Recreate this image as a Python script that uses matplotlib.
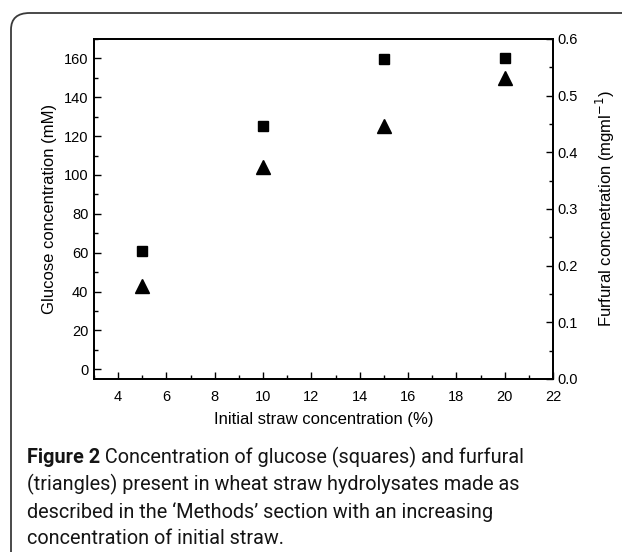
import numpy as np
import matplotlib
matplotlib.use("Agg")
from matplotlib import pyplot as plt
from matplotlib.patches import FancyBboxPatch
from matplotlib.ticker import MultipleLocator, FormatStrFormatter

straw = [5, 10, 15, 20]
glucose = [60.8, 125.3, 159.5, 160.2]
furfural = [0.164, 0.374, 0.446, 0.532]

xlabel = "Initial straw concentration (%)"
ylabel_left = "Glucose concentration (mM)"
ylabel_right = "Furfural concnetration (mgml$^{-1}$)"
caption_bold = "Figure 2"
caption_lines = [
    " Concentration of glucose (squares) and furfural",
    "(triangles) present in wheat straw hydrolysates made as",
    "described in the \u2018Methods\u2019 section with an increasing",
    "concentration of initial straw.",
]

plt.rcParams['font.family'] = ['Liberation Sans', 'DejaVu Sans']

W, H = 622, 552
fig = plt.figure(figsize=(W / 100, H / 100), dpi=100)
ax = fig.add_axes([94 / W, 1 - 379 / H, (553 - 94) / W, (379 - 39) / H])
ax2 = ax.twinx()

ax.plot(straw, glucose, 's', color='black', markersize=7.2, linestyle='none')
ax2.plot(straw, furfural, '^', color='black', markersize=10.5, linestyle='none')

ax.set_xlim(3, 22)
ax.set_ylim(-5, 170)
ax2.set_ylim(0, 0.6)

ax.xaxis.set_major_locator(MultipleLocator(2))
ax.xaxis.set_minor_locator(MultipleLocator(1))
ax.yaxis.set_major_locator(MultipleLocator(20))
ax.yaxis.set_minor_locator(MultipleLocator(10))
ax2.yaxis.set_major_locator(MultipleLocator(0.1))
ax2.yaxis.set_minor_locator(MultipleLocator(0.05))
ax2.yaxis.set_major_formatter(FormatStrFormatter('%.1f'))

for a in (ax, ax2):
    a.tick_params(which='major', direction='in', length=5, width=1.0, labelsize=10.5)
    a.tick_params(which='minor', direction='in', length=3, width=1.0)
    for s in a.spines.values():
        s.set_linewidth(1.3)
ax.tick_params(axis='x', which='both', top=False, pad=8)
ax.tick_params(axis='y', pad=4)
ax2.tick_params(axis='y', pad=3)

ax.set_xlabel(xlabel, fontsize=12, labelpad=6)
ax.set_ylabel(ylabel_left, fontsize=12, labelpad=5)
ax2.set_ylabel(ylabel_right, fontsize=12, labelpad=12)

# rounded frame round the whole figure
frame = FancyBboxPatch((11 / W, -0.05), 1.1, (H - 13) / H + 0.05,
                       boxstyle="round,pad=0,rounding_size=0.03",
                       transform=fig.transFigure, fill=False,
                       edgecolor='#3a3a3a', linewidth=1.3, clip_on=False)
fig.patches.append(frame)

# caption, sized so that its first line about fills the width it has in the original
cap_font = ['Roboto', 'DejaVu Sans']
x0 = 27
baselines = [463, 490.5, 517.5, 544]
fs = 13.5
r = fig.canvas.get_renderer()
probe1 = fig.text(0, 0, caption_bold, fontsize=fs, fontweight='bold', family=cap_font)
probe2 = fig.text(0, 0, caption_lines[0], fontsize=fs, family=cap_font)
wid = probe1.get_window_extent(r).width + probe2.get_window_extent(r).width
probe1.remove()
probe2.remove()
fs = fs * 500 / wid

t = fig.text(x0 / W, 1 - baselines[0] / H, caption_bold, fontsize=fs, fontweight='bold',
             family=cap_font, color='#151515', va='baseline')
bw = t.get_window_extent(r).width
fig.text((x0 + bw) / W, 1 - baselines[0] / H, caption_lines[0], fontsize=fs,
         family=cap_font, color='#151515', va='baseline')
for b, line in zip(baselines[1:], caption_lines[1:]):
    fig.text(x0 / W, 1 - b / H, line, fontsize=fs, family=cap_font,
             color='#151515', va='baseline')

plt.savefig("out.png", dpi=100)
